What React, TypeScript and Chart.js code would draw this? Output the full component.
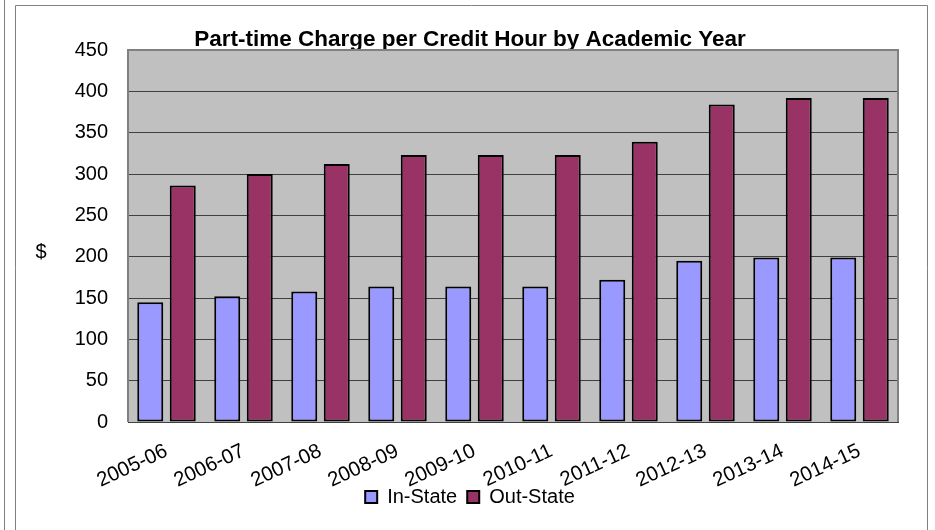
import React, { useEffect, useRef } from 'react';
import { Chart, registerables } from 'chart.js';

Chart.register(...registerables);

const FONT = "'Liberation Sans', Arial, Helvetica, sans-serif";

const categories = ['2005-06', '2006-07', '2007-08', '2008-09', '2009-10', '2010-11', '2011-12', '2012-13', '2013-14', '2014-15'];
const inState = [145, 152, 158, 164, 164, 164, 172, 195, 199, 199];
const outState = [286, 300, 312, 323, 323, 323, 339, 384, 392, 392];
const seriesNames = ['In-State', 'Out-State'];
const yMin = 0;
const yMax = 450;
const yStep = 50;
const titleText = 'Part-time Charge per Credit Hour by Academic Year';
const yAxisLabel = '$';

export default function App() {
  const ref = useRef<HTMLCanvasElement>(null);

  useEffect(() => {
    document.body.style.margin = '0';
    const canvas = ref.current;
    if (!canvas) return;

    const framePlugin = {
      id: 'frame',
      beforeDraw(chart: any) {
        const ctx = chart.ctx;
        const { left, top, right, bottom } = chart.chartArea;
        ctx.save();
        ctx.fillStyle = '#ffffff';
        ctx.fillRect(0, 0, chart.width, chart.height);
        ctx.strokeStyle = '#808080';
        ctx.lineWidth = 1;
        ctx.beginPath();
        ctx.moveTo(4.5, 0);
        ctx.lineTo(4.5, chart.height);
        ctx.moveTo(15.5, chart.height);
        ctx.lineTo(15.5, 5.5);
        ctx.lineTo(927.5, 5.5);
        ctx.lineTo(927.5, chart.height);
        ctx.stroke();
        ctx.fillStyle = '#C0C0C0';
        ctx.fillRect(left, top, right - left, bottom - top);
        ctx.restore();
      },
      afterDraw(chart: any) {
        const ctx = chart.ctx;
        const { left, top, right, bottom } = chart.chartArea;
        ctx.save();
        ctx.strokeStyle = '#808080';
        ctx.lineWidth = 2;
        ctx.beginPath();
        ctx.moveTo(left, bottom);
        ctx.lineTo(left, top);
        ctx.lineTo(right, top);
        ctx.lineTo(right, bottom);
        ctx.stroke();
        ctx.fillStyle = '#000000';
        ctx.font = `20px ${FONT}`;
        ctx.textAlign = 'center';
        ctx.textBaseline = 'middle';
        ctx.fillText(yAxisLabel, 41, (top + bottom) / 2 + 16);
        ctx.restore();
      },
    };

    const chart = new Chart(canvas, {
      type: 'bar',
      data: {
        labels: categories,
        datasets: [
          {
            label: seriesNames[0],
            data: inState,
            backgroundColor: '#9999FF',
            borderColor: '#000000',
            borderWidth: 2,
            borderSkipped: false,
            categoryPercentage: 0.844,
            barPercentage: 0.8,
          },
          {
            label: seriesNames[1],
            data: outState,
            backgroundColor: '#993366',
            borderColor: '#000000',
            borderWidth: 2,
            borderSkipped: false,
            categoryPercentage: 0.844,
            barPercentage: 0.8,
          },
        ],
      },
      options: {
        responsive: false,
        animation: false,
        devicePixelRatio: 1,
        layout: { padding: { left: 42, right: 37, top: 0, bottom: 13 } },
        plugins: {
          title: {
            display: true,
            text: titleText,
            color: '#000000',
            font: { family: FONT, size: 22.5, weight: 'bold' },
            padding: { top: 26, bottom: -3 },
          },
          legend: {
            display: true,
            position: 'bottom',
            labels: {
              color: '#000000',
              font: { family: FONT, size: 20 },
              boxWidth: 12,
              boxHeight: 12,
              padding: 10,
            },
          },
          tooltip: { enabled: false },
        },
        scales: {
          x: {
            grid: { display: false, drawTicks: false },
            border: { display: true, color: '#404040', width: 1 },
            ticks: {
              color: '#000000',
              font: { family: FONT, size: 20.5 },
              minRotation: 25,
              maxRotation: 25,
              autoSkip: false,
              padding: 17,
            },
            afterFit(scale: any) {
              scale.height = 55;
              scale._computeLabelArea = () => undefined;
            },
          },
          y: {
            min: yMin,
            max: yMax,
            grid: { color: '#404040', lineWidth: 1, drawTicks: false },
            border: { display: false },
            ticks: {
              stepSize: yStep,
              color: '#000000',
              font: { family: FONT, size: 20 },
              padding: 20,
            },
            afterFit(scale: any) {
              scale.width = 86;
            },
          },
        },
      },
      plugins: [framePlugin],
    });

    return () => chart.destroy();
  }, []);

  return <canvas ref={ref} width={935} height={530} style={{ display: 'block', width: 935, height: 530 }} />;
}
